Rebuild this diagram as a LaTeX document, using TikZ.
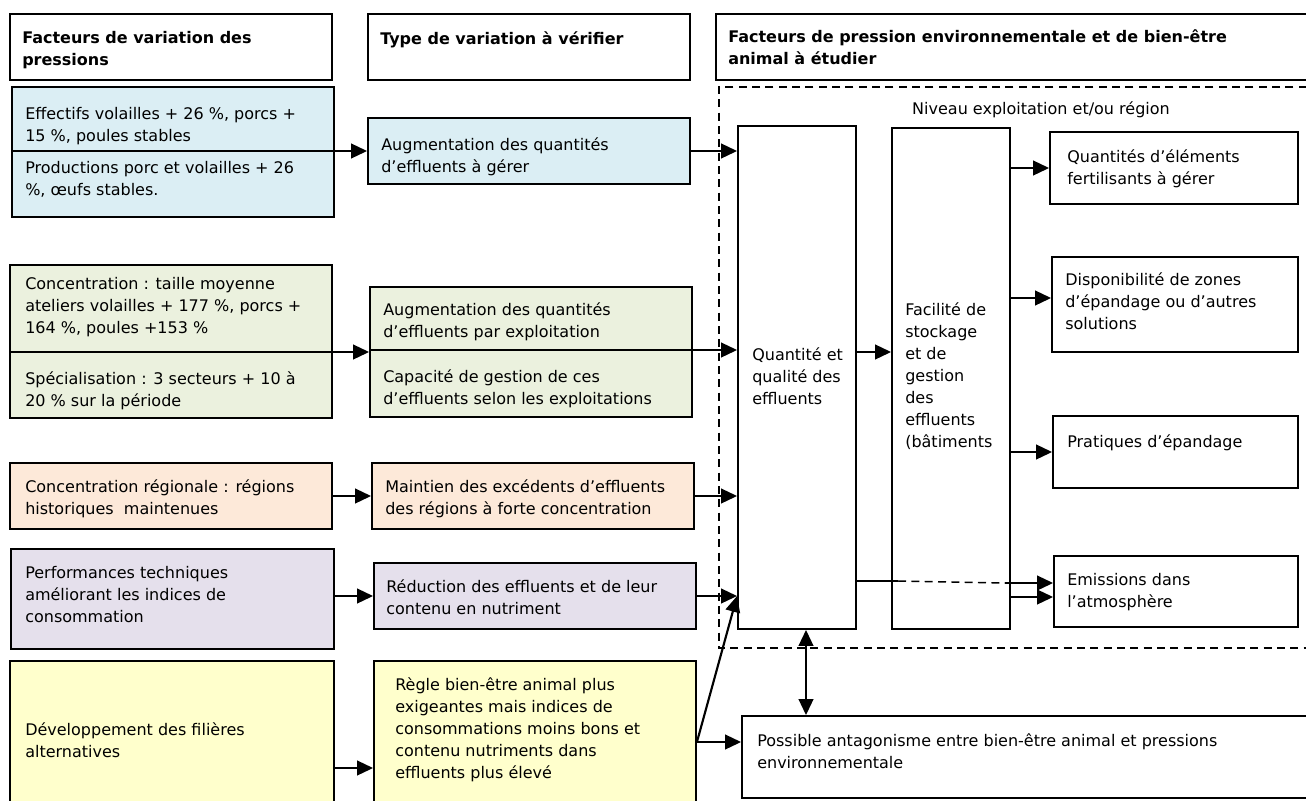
\documentclass[tikz,border=0pt]{standalone}
\usepackage{fontspec}
\setmainfont{DejaVu Sans}
\usetikzlibrary{arrows.meta, positioning, fit}

\definecolor{cblue}{RGB}{219,238,244}
\definecolor{cgreen}{RGB}{235,241,222}
\definecolor{corange}{RGB}{253,233,217}
\definecolor{cpurple}{RGB}{229,224,236}
\definecolor{cyellow}{RGB}{255,255,204}

\tikzset{
  box/.style={draw, line width=1.4pt, inner sep=0pt},
  txt/.style={anchor=north west, align=left, inner sep=0pt, font=\fontsize{12}{16.5}\selectfont},
  head/.style={txt, font=\bfseries\fontsize{12}{16.5}\selectfont},
  arr/.style={line width=1.6pt, -{Triangle[length=12pt,width=11pt]}},
  frame/.style={line width=1.1pt, dash pattern=on 6pt off 4pt},
}

\begin{document}
\begin{tikzpicture}[x=0.75pt,y=-0.75pt]
\useasboundingbox (0,0) rectangle (1306,800);

% Headers
\node[box, fit={(10,14) (332,80)}] (hfact) {};
\node[head] (hfactT) at (22,31) {Facteurs de variation des\\pressions};
\node[box, fit={(368,14) (690,80)}] (hvar) {};
\node[head] (hvarT) at (380,31) {Type de variation à vérifier};
\node[box, fit={(716,14) (1320,80)}] (hpress) {};
\node[head] (hpressT) at (728,29) {Facteurs de pression environnementale et de bien-être\\animal à étudier};

% Level frame (dashed)
\draw[frame] (1320,87) -- (719,87) -- (719,648) -- (1320,648);
\node[txt, anchor=center] (niveau) at (1041,110) {Niveau exploitation et/ou région};

% Row 1 - blue
\node[box, fill=cblue, fit={(12,87) (334,217)}] (blueA) {};
\coordinate (blueAdiv) at (12,151);
\draw[line width=1.4pt] (blueAdiv) -- (blueAdiv -| blueA.east);
\node[txt] (blueA1) at (25,107) {Effectifs volailles + 26 \%, porcs +\\15 \%, poules stables};
\node[txt] (blueA2) at (25,161) {Productions porc et volailles + 26\\\%, œufs stables.};
\node[box, fill=cblue, fit={(368,118) (690,184)}] (blueB) {};
\node[txt] (blueBT) at (381,137) {Augmentation des quantités\\d’effluents à gérer};

% Row 2 - green
\node[box, fill=cgreen, fit={(10,265) (332,418)}] (greenA) {};
\coordinate (greenAdiv) at (10,352);
\draw[line width=1.4pt] (greenAdiv) -- (greenAdiv -| greenA.east);
\node[txt] (greenA1) at (25,277) {Concentration : taille moyenne\\ateliers volailles + 177 \%, porcs +\\164 \%, poules +153 \%};
\node[txt] (greenA2) at (25,371) {Spécialisation : 3 secteurs + 10 à\\20 \% sur la période};
\node[box, fill=cgreen, fit={(370,287) (692,417)}] (greenB) {};
\coordinate (greenBdiv) at (370,350);
\draw[line width=1.4pt] (greenBdiv) -- (greenBdiv -| greenB.east);
\node[txt] (greenB1) at (383,302) {Augmentation des quantités\\d’effluents par exploitation};
\node[txt] (greenB2) at (383,369) {Capacité de gestion de ces\\d’effluents selon les exploitations};

% Row 3 - orange
\node[box, fill=corange, fit={(10,463) (332,529)}] (orangeA) {};
\node[txt] (orangeAT) at (25,479) {Concentration régionale : régions\\historiques\ \ maintenues};
\node[box, fill=corange, fit={(372,463) (694,529)}] (orangeB) {};
\node[txt] (orangeBT) at (385,479) {Maintien des excédents d’effluents\\des régions à forte concentration};

% Row 4 - purple
\node[box, fill=cpurple, fit={(11,549) (334,649)}] (purpleA) {};
\node[txt] (purpleAT) at (25,566) {Performances techniques\\améliorant les indices de\\consommation};
\node[box, fill=cpurple, fit={(374,563) (696,629)}] (purpleB) {};
\node[txt] (purpleBT) at (386,579) {Réduction des effluents et de leur\\contenu en nutriment};

% Row 5 - yellow
\node[box, fill=cyellow, fit={(10,661) (334,820)}] (yellowA) {};
\node[txt] (yellowAT) at (25,722) {Développement des filières\\alternatives};
\node[box, fill=cyellow, fit={(374,661) (696,820)}] (yellowB) {};
\node[txt] (yellowBT) at (395,677) {Règle bien-être animal plus\\exigeantes mais indices de\\consommations moins bons et\\contenu nutriments dans\\effluents plus élevé};

% Effluent columns
\node[box, fit={(738,126) (856,629)}] (qty) {};
\node[txt] (qtyT) at (752,347) {Quantité et\\qualité des\\effluents};
\node[box, fit={(892,128) (1010,629)}] (fac) {};
\node[txt] (facT) at (905,302) {Facilité de\\stockage\\et de\\gestion\\des\\effluents\\(bâtiments};

% Pressures to study
\node[box, fit={(1050,132) (1298,204)}] (fert) {};
\node[txt] (fertT) at (1067,149) {Quantités d’éléments\\fertilisants à gérer};
\node[box, fit={(1052,257) (1298,352)}] (zones) {};
\node[txt] (zonesT) at (1065,272) {Disponibilité de zones\\d’épandage ou d’autres\\solutions};
\node[box, fit={(1053,416) (1298,488)}] (prat) {};
\node[txt] (pratT) at (1067,434) {Pratiques d’épandage};
\node[box, fit={(1054,556) (1298,627)}] (emis) {};
\node[txt] (emisT) at (1067,573) {Emissions dans\\l’atmosphère};
\node[box, fit={(742,716) (1320,798)}] (poss) {};
\node[txt] (possT) at (757,733) {Possible antagonisme entre bien-être animal et pressions\\environnementale};

% Arrows, left to middle column
\draw[arr] (blueAdiv -| blueA.east) -- (blueAdiv -| blueB.west);
\draw[arr] (greenAdiv -| greenA.east) -- (greenAdiv -| greenB.west);
\draw[arr] (orangeA.east) -- (orangeB.west);
\draw[arr] (purpleA.east |- purpleB.west) -- (purpleB.west);
\coordinate (yarr) at (0,768);
\draw[arr] (yellowA.east |- yarr) -- (yellowB.west |- yarr);

% Arrows, middle column to effluents
\draw[arr] (blueB.east) -- (blueB.east -| qty.west);
\draw[arr] (greenBdiv -| greenB.east) -- (greenBdiv -| qty.west);
\draw[arr] (orangeB.east) -- (orangeB.east -| qty.west);
\draw[arr] (purpleB.east) -- (purpleB.east -| qty.west);
\coordinate (yout) at (yellowB.east |- 0,742);
\draw[arr] (yout) -- (purpleB.east -| qty.west);
\draw[arr] (yout) -- (yout -| poss.west);

% Link effluents / antagonism
\coordinate (link) at (806,0);
\draw[arr, {Triangle[length=12pt,width=11pt]}-{Triangle[length=12pt,width=11pt]}] (link |- qty.south) -- (link |- poss.north);

% Arrows, effluents to pressures
\draw[arr] (qty.east |- 0,352) -- (fac.west |- 0,352);
\draw[arr] (fac.east |- fert.west) -- (fert.west);
\draw[arr] (fac.east |- 0,298) -- (zones.west |- 0,298);
\draw[arr] (fac.east |- prat.west) -- (prat.west);
\draw[arr] (fac.east |- 0,597) -- (emis.west |- 0,597);
\coordinate (em1) at (898,581);
\coordinate (em2) at (1005,583);
\draw[line width=1pt] (qty.east |- em1) -- (em1);
\draw[frame] (em1) -- (em2);
\draw[arr] (em2) -- (emis.west |- em2);

\end{tikzpicture}
\end{document}
